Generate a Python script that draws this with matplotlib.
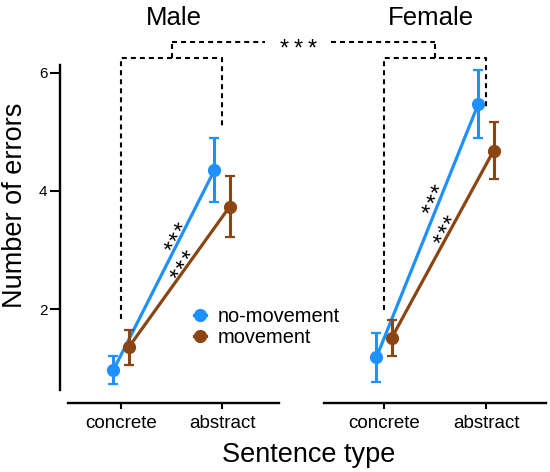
import matplotlib
matplotlib.use("Agg")
import matplotlib.pyplot as plt
import numpy as np
from matplotlib.lines import Line2D

plt.rcParams['font.family'] = ['Liberation Sans', 'DejaVu Sans']
plt.rcParams['lines.scale_dashes'] = False

# ---------------- data ----------------
categories = ['concrete', 'abstract']
panels = ['Male', 'Female']
groups = ['no-movement', 'movement']
colors = ['#1E90FF', '#8B4513']

male_nomove_mean = [0.97, 4.35]
male_nomove_err = [0.24, 0.54]
male_move_mean = [1.35, 3.73]
male_move_err = [0.30, 0.52]
female_nomove_mean = [1.18, 5.47]
female_nomove_err = [0.42, 0.58]
female_move_mean = [1.51, 4.68]
female_move_err = [0.30, 0.48]

yticks = [2, 4, 6]
sig_stars = 3

# ---------------- layout ----------------
W, H = 550, 472
fig = plt.figure(figsize=(W / 100, H / 100), dpi=100)


def px_axes(l, t, r, b):
    return fig.add_axes([l / W, 1 - b / H, (r - l) / W, (b - t) / H])


axL = px_axes(68, 65, 279, 390)
axR = px_axes(324, 65, 546, 390)
axL.set_xlim(-0.525, 1.564)
axR.set_xlim(-0.588, 1.588)
for ax in (axL, axR):
    ax.set_ylim(0.63, 6.127)
    ax.patch.set_alpha(0)
    for s in ('top', 'right'):
        ax.spines[s].set_visible(False)
    ax.spines['bottom'].set_position(('outward', 9.4))
    ax.spines['bottom'].set_linewidth(1.7)
    ax.set_xticks(range(len(categories)))
    ax.set_xticklabels(categories)
    ax.tick_params(axis='x', length=4.3, width=1.5, labelsize=13.5, pad=4)

axL.spines['left'].set_position(('outward', 5.8))
axL.spines['left'].set_linewidth(1.7)
axL.set_yticks(yticks)
axL.tick_params(axis='y', length=7, width=1.5, labelsize=11, pad=2)
axR.spines['left'].set_visible(False)
axR.set_yticks([])

dodge = 0.075
panel_data = [
    (axL, [(male_nomove_mean, male_nomove_err), (male_move_mean, male_move_err)]),
    (axR, [(female_nomove_mean, female_nomove_err), (female_move_mean, female_move_err)]),
]
for ax, series in panel_data:
    x = np.arange(len(categories))
    for k, ((m, e), c) in enumerate(zip(series, colors)):
        off = -dodge if k == 0 else dodge
        ax.errorbar(x + off, m, yerr=e, color=c, lw=2.3, marker='o', ms=8.5,
                    elinewidth=2.2, capsize=3.4, capthick=1.6, zorder=3 + k)

# titles
for ax, name, tx in zip((axL, axR), panels, (0.525, 0.46)):
    ax.text(tx, 1.123, name, transform=ax.get_xaxis_transform(),
            ha='center', va='baseline', fontsize=18.5)

# ---------------- brackets ----------------
bracket_y = 6.24
top_y = 6.52
male_drop = (1.83, 5.06)
female_drop = (1.98, 5.37)
dash_kw = dict(color='black', lw=1.5, linestyle=(0, (3.6, 2.9)), clip_on=False, zorder=2)


def r2l(x, y):
    d = axR.transData.transform((x, y))
    return axL.transData.inverted().transform(d)


def star_group(ax, cx, cy, rot, spacing_pt, fs):
    """Draw a row of stars centred at (cx, cy), along direction rot (deg)."""
    t = np.deg2rad(rot)
    up = 0.58 * fs  # glyph centre above baseline
    for i in range(sig_stars):
        s = (i - (sig_stars - 1) / 2) * spacing_pt
        dx = s * np.cos(t) + up * np.sin(t)
        dy = s * np.sin(t) - up * np.cos(t)
        ax.annotate('*', xy=(cx, cy), xytext=(dx, dy), textcoords='offset points',
                    ha='center', va='baseline', rotation=rot, rotation_mode='anchor',
                    fontsize=fs, annotation_clip=False, zorder=6)


# male bracket
axL.plot([0, 0, 1, 1], [male_drop[0], bracket_y, bracket_y, male_drop[1]], **dash_kw)
axL.plot([0.5, 0.5], [bracket_y, top_y], **dash_kw)
# female bracket
axR.plot([0, 0, 1, 1], [female_drop[0], bracket_y, bracket_y, female_drop[1]], **dash_kw)
axR.plot([0.5, 0.5], [bracket_y, top_y], **dash_kw)
# top connector with a gap for the stars
fx, _ = r2l(0.5, top_y)
mid = (0.5 + fx) / 2 - 0.05
px_per_unit = (axL.transData.transform((1, 0)) - axL.transData.transform((0, 0)))[0]
gap = 33 / px_per_unit
axL.plot([0.5, mid - gap], [top_y, top_y], **dash_kw)
axL.plot([mid + gap, fx], [top_y, top_y], **dash_kw)
star_group(axL, mid, top_y, 0, 10.0, 17)

# rotated significance stars along the lines
star_specs = [
    (axL, 0.505, 3.25, 63),
    (axL, 0.574, 2.78, 56),
    (axR, 0.446, 3.88, 66),
    (axR, 0.559, 3.37, 62),
]
for ax, sx, sy, rot in star_specs:
    star_group(ax, sx, sy, rot, 8.0, 17)

# legend
handles = [Line2D([], [], color=c, lw=2.3, marker='o', ms=8.5) for c in colors]
fig.legend(handles, groups, loc='center left',
           bbox_to_anchor=(194 / W, 1 - 327 / H), bbox_transform=fig.transFigure,
           frameon=False, fontsize=14.4, handlelength=0.6, handletextpad=0.6,
           labelspacing=0.12, borderpad=0, borderaxespad=0)

# axis labels
fig.text(15 / W, 1 - 205.5 / H, 'Number of errors', rotation=90,
         ha='center', va='center', fontsize=19.5)
fig.text(309 / W, 1 - 461.7 / H, 'Sentence type', ha='center', va='baseline', fontsize=19.5)

fig.savefig('out.png', dpi=100)
